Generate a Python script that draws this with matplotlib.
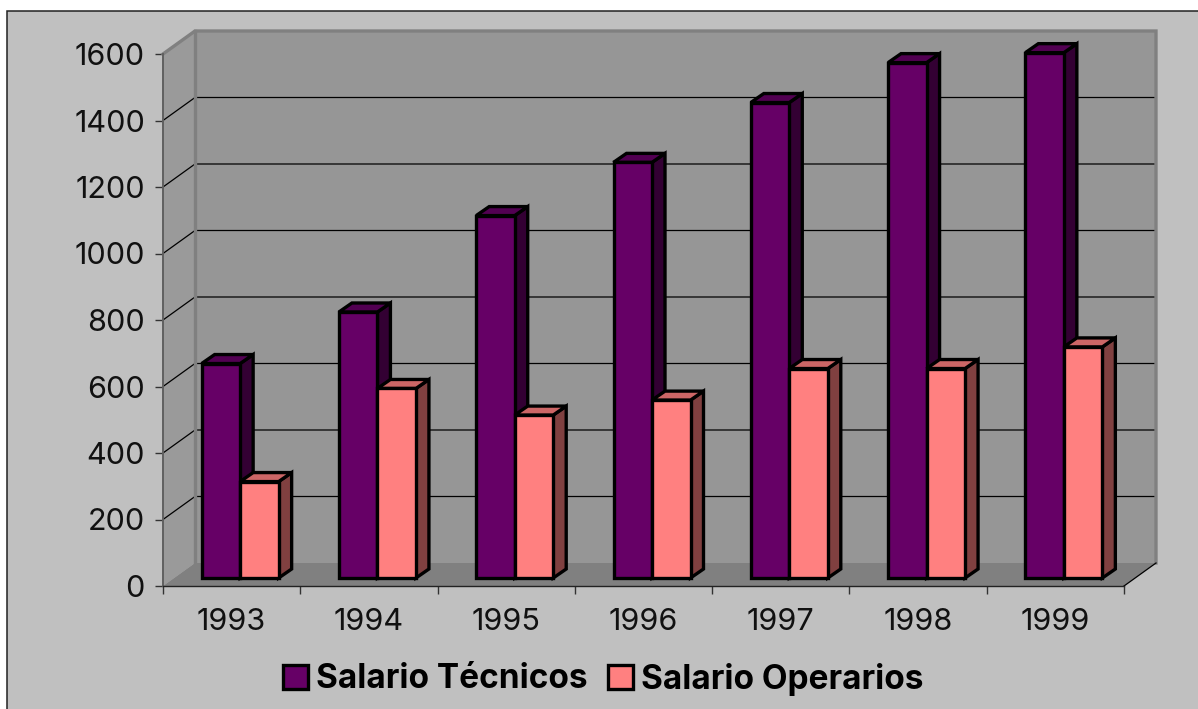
import matplotlib
matplotlib.use("Agg")
from matplotlib import pyplot as plt
from matplotlib.patches import Patch, Rectangle
import numpy as np

plt.rcParams['font.family'] = ['Inter', 'Liberation Sans', 'DejaVu Sans']

years = ['1993', '1994', '1995', '1996', '1997', '1998', '1999']
salario_tecnicos = [645, 800, 1090, 1250, 1430, 1550, 1580]
salario_operarios = [290, 570, 490, 535, 630, 630, 695]
y_ticks = [0, 200, 400, 600, 800, 1000, 1200, 1400, 1600]

W, H = 1198, 709
L, R, T, B = 163, 1124, 54, 586   # frente del grafico en pixeles

fig = plt.figure(figsize=(W / 100, H / 100), dpi=100, facecolor='white')
fig.add_artist(Rectangle((7 / W, -0.1), 1.1, 1.1 - 11 / H, transform=fig.transFigure,
                         facecolor='#c0c0c0', edgecolor='#222222', linewidth=1.1, zorder=-1))

ax = fig.add_axes([L / W, 1 - B / H, (R - L) / W, (B - T) / H])
ax.patch.set_alpha(0)
ax.set_xlim(0, len(years))
ax.set_ylim(0, 1600)

# pixeles -> unidades de datos
px = len(years) / (R - L)
py = 1600 / (B - T)
wall_dx, wall_dy = 32 * px, 23 * py
base_dx, base_dy = 8.5 * px, 8 * py
bar_dx, bar_dy = 13 * px, 9 * py
bar_w = 38.5 * px


def poly(xs, ys, color, z, edge='none', lw=0):
    ax.fill(xs, ys, facecolor=color, edgecolor=edge, linewidth=lw, zorder=z,
            clip_on=False, joinstyle='miter')


n = len(years)
# paredes y piso
poly([wall_dx, n + wall_dx, n + wall_dx, wall_dx], [wall_dy, wall_dy, 1600 + wall_dy, 1600 + wall_dy], '#969696', 1)
poly([0, wall_dx, wall_dx, 0], [0, wall_dy, 1600 + wall_dy, 1600], '#9a9a9a', 1)
poly([0, n, n + wall_dx, wall_dx], [0, 0, wall_dy, wall_dy], '#808080', 1)

for v in y_ticks[1:-1]:
    ax.plot([0, wall_dx, n + wall_dx], [v, v + wall_dy, v + wall_dy], color='black', lw=0.9,
            zorder=2, clip_on=False)
ax.plot([0, wall_dx, n + wall_dx, n + wall_dx], [1600, 1600 + wall_dy, 1600 + wall_dy, wall_dy],
        color='#808080', lw=2.4, zorder=2, clip_on=False, solid_joinstyle='miter')
ax.plot([wall_dx, wall_dx], [wall_dy, 1600 + wall_dy], color='#808080', lw=2.4, zorder=2, clip_on=False)
ax.plot([n, n + wall_dx], [0, wall_dy], color='black', lw=0.9, zorder=2, clip_on=False)


def bar3d(x0, v, front, side, top, z):
    x1 = x0 + bar_w
    y0, y1 = base_dy, v + base_dy
    poly([x1, x1 + bar_dx, x1 + bar_dx, x1], [y0, y0 + bar_dy, y1 + bar_dy, y1], side, z, 'black', 2.4)
    poly([x0, x1, x1 + bar_dx, x0 + bar_dx], [y1, y1, y1 + bar_dy, y1 + bar_dy], top, z, 'black', 2.4)
    ax.bar(x0, v, width=bar_w, bottom=y0, align='edge', color=front, edgecolor='black', linewidth=2.4,
           zorder=z, clip_on=False)


for i in range(n):
    centre = i + 0.5 + base_dx
    bar3d(centre - bar_w, salario_tecnicos[i], '#660066', '#330033', '#520052', 3 + i)
    bar3d(centre, salario_operarios[i], '#ff8080', '#804040', '#cc6666', 3.5 + i)

for s in ['top', 'right']:
    ax.spines[s].set_visible(False)
ax.spines['left'].set_color('#606060')
ax.spines['left'].set_linewidth(1.4)
ax.spines['bottom'].set_color('#222222')
ax.spines['bottom'].set_linewidth(1)
for s in ax.spines.values():
    s.set_zorder(2.5)

ax.set_yticks(y_ticks)
ax.tick_params(axis='y', length=6, width=1, color='#333333', pad=7, labelsize=22, labelcolor='#111111')
ax.set_xticks(np.arange(n) + 0.5)
ax.set_xticklabels(years)
ax.set_xticks(np.arange(n + 1), minor=True)
ax.tick_params(axis='x', which='major', length=0, pad=16, labelsize=22, labelcolor='#111111')
ax.tick_params(axis='x', which='minor', length=6, width=1, color='#333333')

handles = [Patch(facecolor='#660066', edgecolor='black', linewidth=2.4, label='Salario Técnicos'),
           Patch(facecolor='#ff8080', edgecolor='black', linewidth=2.4, label='Salario Operarios')]
fig.legend(handles=handles, loc='center', bbox_to_anchor=(603 / W, 1 - 679 / H), ncol=2, frameon=False,
           handlelength=0.75, handleheight=0.75, handletextpad=0.25, columnspacing=0.6,
           prop={'size': 24, 'weight': 'bold'})

fig.savefig('out.png', dpi=100, facecolor=fig.get_facecolor())
